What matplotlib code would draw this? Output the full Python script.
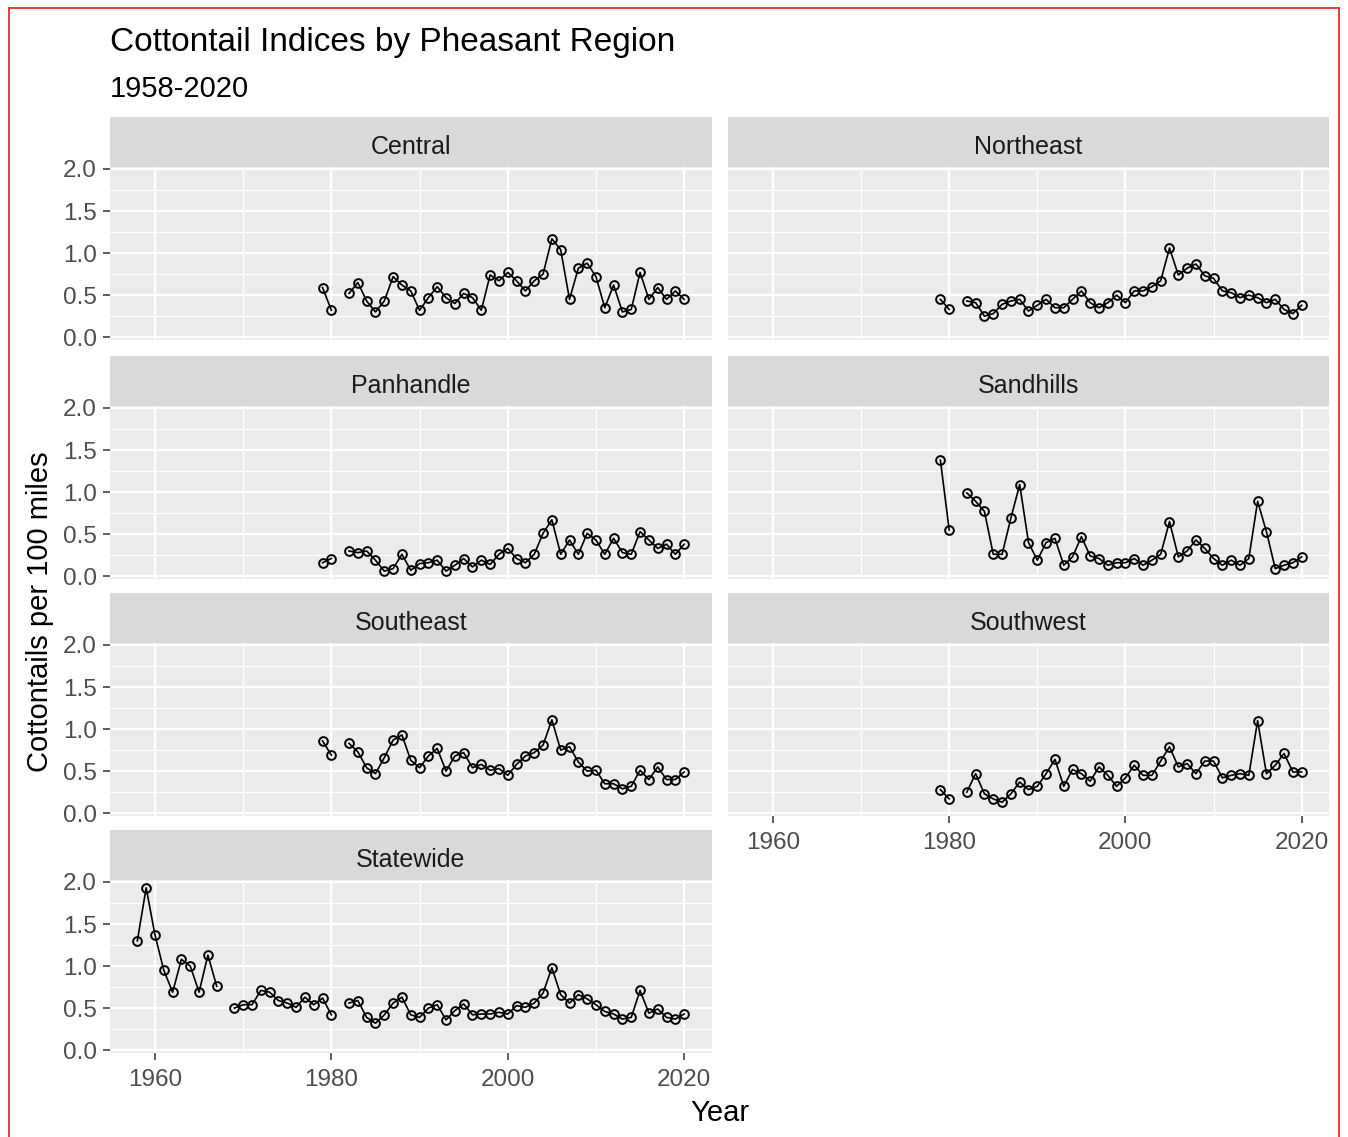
import numpy as np
import matplotlib
matplotlib.use("Agg")
import matplotlib.pyplot as plt
from matplotlib.lines import Line2D

nan = np.nan

# ---------------- data ----------------
region_years = list(range(1979, 2021))          # 1981 missing (NaN)
statewide_years = list(range(1958, 2021))       # 1968 and 1981 missing (NaN)

central = [0.59, 0.32, nan, 0.52, 0.65, 0.43, 0.30, 0.43, 0.72, 0.62, 0.55, 0.32,
           0.47, 0.60, 0.47, 0.40, 0.52, 0.47, 0.32, 0.74, 0.67, 0.77, 0.67, 0.55,
           0.67, 0.75, 1.17, 1.04, 0.45, 0.82, 0.88, 0.72, 0.35, 0.62, 0.30, 0.33,
           0.77, 0.45, 0.59, 0.45, 0.55, 0.45]
northeast = [0.45, 0.33, nan, 0.43, 0.41, 0.25, 0.28, 0.39, 0.43, 0.45, 0.31, 0.38,
             0.45, 0.35, 0.35, 0.45, 0.55, 0.41, 0.35, 0.41, 0.50, 0.41, 0.55, 0.55,
             0.60, 0.67, 1.06, 0.74, 0.82, 0.87, 0.73, 0.70, 0.55, 0.53, 0.47, 0.50,
             0.47, 0.41, 0.45, 0.33, 0.28, 0.38]
panhandle = [0.16, 0.21, nan, 0.30, 0.28, 0.30, 0.19, 0.06, 0.09, 0.26, 0.07, 0.15,
             0.16, 0.19, 0.06, 0.13, 0.21, 0.11, 0.19, 0.14, 0.26, 0.33, 0.21, 0.16,
             0.26, 0.51, 0.67, 0.26, 0.43, 0.26, 0.51, 0.43, 0.26, 0.45, 0.28, 0.26,
             0.53, 0.43, 0.33, 0.38, 0.26, 0.38]
sandhills = [1.38, 0.55, nan, 0.99, 0.89, 0.77, 0.26, 0.26, 0.69, 1.09, 0.40, 0.19,
             0.40, 0.45, 0.13, 0.23, 0.47, 0.24, 0.21, 0.13, 0.16, 0.16, 0.21, 0.13,
             0.19, 0.26, 0.65, 0.23, 0.30, 0.43, 0.33, 0.21, 0.13, 0.19, 0.13, 0.21,
             0.89, 0.53, 0.09, 0.13, 0.16, 0.23]
southeast = [0.86, 0.69, nan, 0.83, 0.73, 0.54, 0.47, 0.66, 0.87, 0.93, 0.63, 0.54,
             0.68, 0.77, 0.50, 0.68, 0.72, 0.54, 0.58, 0.51, 0.53, 0.45, 0.58, 0.68,
             0.72, 0.81, 1.11, 0.75, 0.79, 0.61, 0.50, 0.51, 0.35, 0.35, 0.29, 0.32,
             0.51, 0.40, 0.55, 0.40, 0.40, 0.49]
southwest = [0.28, 0.17, nan, 0.25, 0.47, 0.23, 0.17, 0.13, 0.23, 0.37, 0.28, 0.32,
             0.47, 0.64, 0.32, 0.52, 0.47, 0.38, 0.55, 0.45, 0.32, 0.42, 0.57, 0.45,
             0.45, 0.62, 0.79, 0.55, 0.59, 0.47, 0.62, 0.62, 0.42, 0.45, 0.47, 0.45,
             1.10, 0.47, 0.57, 0.71, 0.49, 0.49]
statewide = [1.30, 1.93, 1.37, 0.95, 0.69, 1.08, 1.00, 0.69, 1.13, 0.76, nan,
             0.50, 0.54, 0.54, 0.71, 0.69, 0.59, 0.56, 0.51, 0.63, 0.54, 0.62, 0.42, nan,
             0.56, 0.59, 0.39, 0.32, 0.42, 0.56, 0.63, 0.42, 0.39,
             0.50, 0.54, 0.36, 0.47, 0.55, 0.42, 0.43, 0.43, 0.45, 0.43,
             0.53, 0.51, 0.56, 0.68, 0.98, 0.66, 0.56, 0.66, 0.61, 0.54,
             0.46, 0.43, 0.37, 0.39, 0.71, 0.44, 0.49, 0.39, 0.37, 0.43]

panel_names = ["Central", "Northeast", "Panhandle", "Sandhills",
               "Southeast", "Southwest", "Statewide"]
panel_data = [(region_years, central), (region_years, northeast),
              (region_years, panhandle), (region_years, sandhills),
              (region_years, southeast), (region_years, southwest),
              (statewide_years, statewide)]

x_ticks = [1960, 1980, 2000, 2020]
x_minor = [1970, 1990, 2010]
y_ticks = [0.0, 0.5, 1.0, 1.5, 2.0]
y_minor = [0.25, 0.75, 1.25, 1.75]

title = "Cottontail Indices by Pheasant Region"
subtitle = "1958-2020"
xlabel = "Year"
ylabel = "Cottontails per 100 miles"

# ---------------- layout ----------------
W, H = 1348, 1137
plt.rcParams["font.family"] = ["Liberation Sans", "DejaVu Sans"]
fig = plt.figure(figsize=(W / 100, H / 100), dpi=100)
fig.patch.set_facecolor("white")


def rect(x0, y0, x1, y1):
    return [x0 / W, 1 - y1 / H, (x1 - x0) / W, (y1 - y0) / H]


cols = [(110, 711.5), (728, 1329)]
row_top = [117, 356, 593, 830]
strip_h = 50
panel_h = 173

# scale limits with 5% expansion (like ggplot)
all_x = np.concatenate([np.array(d[0], float) for d in panel_data])
all_y = np.concatenate([np.array(d[1], float) for d in panel_data])
xmin, xmax = np.nanmin(all_x), np.nanmax(all_x)
ymin, ymax = np.nanmin(all_y), np.nanmax(all_y)
xr, yr = xmax - xmin, ymax - ymin
xlim = (xmin - 0.05 * xr, xmax + 0.05 * xr)
ylim = (ymin - 0.05 * yr, ymax + 0.05 * yr)

grid_col = "white"
for i, (name, (yrs, vals)) in enumerate(zip(panel_names, panel_data)):
    r, c = divmod(i, 2)
    x0, x1 = cols[c]
    st = row_top[r]
    # strip
    sax = fig.add_axes(rect(x0, st, x1, st + strip_h))
    sax.set_facecolor("#D9D9D9")
    sax.set_xticks([]); sax.set_yticks([])
    for s in sax.spines.values():
        s.set_visible(False)
    sax.text(0.5, 0.40, name, transform=sax.transAxes, ha="center", va="center",
             fontsize=18, color="#1A1A1A")
    # panel
    ax = fig.add_axes(rect(x0, st + strip_h, x1, st + strip_h + panel_h))
    ax.set_facecolor("#EBEBEB")
    for s in ax.spines.values():
        s.set_visible(False)
    ax.set_xlim(*xlim)
    ax.set_ylim(*ylim)
    ax.set_xticks(x_ticks)
    ax.set_xticks(x_minor, minor=True)
    ax.set_yticks(y_ticks)
    ax.set_yticks(y_minor, minor=True)
    ax.grid(which="major", color=grid_col, linewidth=1.6, zorder=0)
    ax.grid(which="minor", color=grid_col, linewidth=0.8, zorder=0)
    ax.set_axisbelow(True)
    ax.tick_params(which="minor", length=0)
    # y axis only on left column
    if c == 0:
        ax.tick_params(axis="y", which="major", length=5, width=1.1, color="#333333",
                       labelsize=17.5, labelcolor="#4D4D4D", pad=4.5)
        ax.set_yticklabels([f"{v:.1f}" for v in y_ticks])
    else:
        ax.tick_params(axis="y", which="major", length=0, labelleft=False)
    # x axis only on bottom panel of each column
    if name in ("Statewide", "Southwest"):
        ax.tick_params(axis="x", which="major", length=5, width=1.1, color="#333333",
                       labelsize=17.5, labelcolor="#4D4D4D", pad=6.5)
        ax.set_xticklabels([str(v) for v in x_ticks])
    else:
        ax.tick_params(axis="x", which="major", length=0, labelbottom=False)
    ax.plot(yrs, vals, color="black", linewidth=1.2, zorder=3)
    ax.plot(yrs, vals, linestyle="none", marker="o", markersize=6.3,
            markerfacecolor="none", markeredgecolor="black", markeredgewidth=1.4,
            zorder=4)

# titles
fig.text(110 / W, 1 - 42 / H, title, fontsize=24, ha="left", va="center", color="black")
fig.text(110 / W, 1 - 89 / H, subtitle, fontsize=21, ha="left", va="center", color="black")
fig.text(720 / W, 1 - 1113 / H, xlabel, fontsize=21, ha="center", va="center", color="black")
fig.text(40 / W, 1 - 612 / H, ylabel, fontsize=21, ha="center", va="center",
         rotation=90, color="black")

# red frame of the screenshot
for (xa, ya, xb, yb) in [(9, 8, 1339, 8), (9, 8, 9, 1137), (1339, 8, 1339, 1137)]:
    fig.add_artist(Line2D([xa / W, xb / W], [1 - ya / H, 1 - yb / H],
                          color="#E8302A", linewidth=1.3))

fig.savefig("out.png", dpi=100)
